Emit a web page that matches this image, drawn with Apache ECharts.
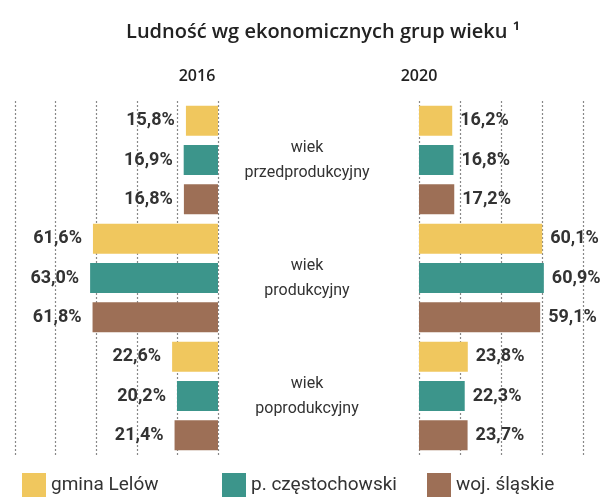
<!DOCTYPE html>
<html>
<head>
<meta charset="utf-8">
<script src="https://cdn.jsdelivr.net/npm/echarts@6/dist/echarts.min.js"></script>
<style>
  html, body { margin: 0; padding: 0; background: #fff; }
  #chart { width: 614px; height: 499px; }
</style>
</head>
<body>
<div id="chart"></div>
<script>
// grupy wieku
var groups = ['wiek\nprzedprodukcyjny', 'wiek\nprodukcyjny', 'wiek\npoprodukcyjny'];
var regions = ['gmina Lelów', 'p. częstochowski', 'woj. śląskie'];
var colors = ['#F0C75E', '#3C958B', '#9D6F56'];

// 2016
var lelow2016 = [15.8, 61.6, 22.6];
var powiat2016 = [16.9, 63.0, 20.2];
var wojew2016 = [16.8, 61.8, 21.4];

// 2020
var lelow2020 = [16.2, 60.1, 23.8];
var powiat2020 = [16.8, 60.9, 22.3];
var wojew2020 = [17.2, 59.1, 23.7];

var chart = echarts.init(document.getElementById('chart'));

function fmt(p) {
	return p.value.toFixed(1).replace('.', ',') + '%';
}

function makeSeries(name, data, idx, side) {
	return {
		name: name,
		type: 'bar',
		xAxisIndex: side,
		yAxisIndex: side,
		data: data,
		barWidth: 30,
		barGap: '31%',
		itemStyle: { color: colors[idx] },
		label: {
			show: true,
			position: side === 0 ? 'left' : 'right',
			distance: side === 0 ? 11 : 8,
			formatter: fmt,
			color: '#333',
			fontFamily: 'Roboto',
			fontWeight: 'bold',
			fontSize: 18
		},
		silent: true,
		animation: false
	};
}

var splitLine = {
	show: true,
	lineStyle: { color: '#888', type: [2, 2], width: 1.2 }
};

function legendAt(name, left) {
	return {
		data: [name],
		left: left,
		top: 473,
		itemWidth: 24,
		itemHeight: 24,
		itemGap: 0,
		icon: 'rect',
		padding: 0,
		textStyle: { fontFamily: 'Roboto', fontSize: 19, color: '#333' }
	};
}

option = {
	backgroundColor: '#fff',
	title: [{
		text: 'Ludność wg ekonomicznych grup wieku ¹',
		left: 318,
		top: 17,
		textAlign: 'center',
		textStyle: { fontFamily: 'Open Sans', fontWeight: 600, fontSize: 20, color: '#222' }
	}, {
		text: '2016',
		left: 192,
		top: 63,
		textAlign: 'center',
		textStyle: { fontFamily: 'Open Sans', fontWeight: 600, fontSize: 16, color: '#222' }
	}, {
		text: '2020',
		left: 414,
		top: 63,
		textAlign: 'center',
		textStyle: { fontFamily: 'Open Sans', fontWeight: 600, fontSize: 16, color: '#222' }
	}],
	legend: [
		legendAt(regions[0], 22),
		legendAt(regions[1], 222),
		legendAt(regions[2], 427)
	],
	grid: [
		{ left: 15, right: 396, top: 101, bottom: 44 },
		{ left: 419, right: 31, top: 101, bottom: 44 }
	],
	xAxis: [{
		gridIndex: 0,
		type: 'value',
		min: 0,
		max: 100,
		interval: 20,
		inverse: true,
		axisLabel: { show: false },
		axisLine: { show: false },
		axisTick: { show: false },
		splitLine: splitLine
	}, {
		gridIndex: 1,
		type: 'value',
		min: 0,
		max: 80,
		interval: 20,
		axisLabel: { show: false },
		axisLine: { show: false },
		axisTick: { show: false },
		splitLine: splitLine
	}],
	yAxis: [{
		gridIndex: 0,
		type: 'category',
		data: groups,
		inverse: true,
		position: 'right',
		axisLine: { show: false },
		axisTick: { show: false },
		axisLabel: {
			align: 'center',
			margin: 89,
			fontFamily: 'Roboto',
			fontSize: 16,
			lineHeight: 25,
			color: '#333'
		}
	}, {
		gridIndex: 1,
		type: 'category',
		data: groups,
		inverse: true,
		axisLine: { show: false },
		axisTick: { show: false },
		axisLabel: { show: false }
	}],
	series: [
		makeSeries(regions[0], lelow2016, 0, 0),
		makeSeries(regions[1], powiat2016, 1, 0),
		makeSeries(regions[2], wojew2016, 2, 0),
		makeSeries(regions[0], lelow2020, 0, 1),
		makeSeries(regions[1], powiat2020, 1, 1),
		makeSeries(regions[2], wojew2020, 2, 1)
	]
};

chart.setOption(option);
</script>
</body>
</html>
